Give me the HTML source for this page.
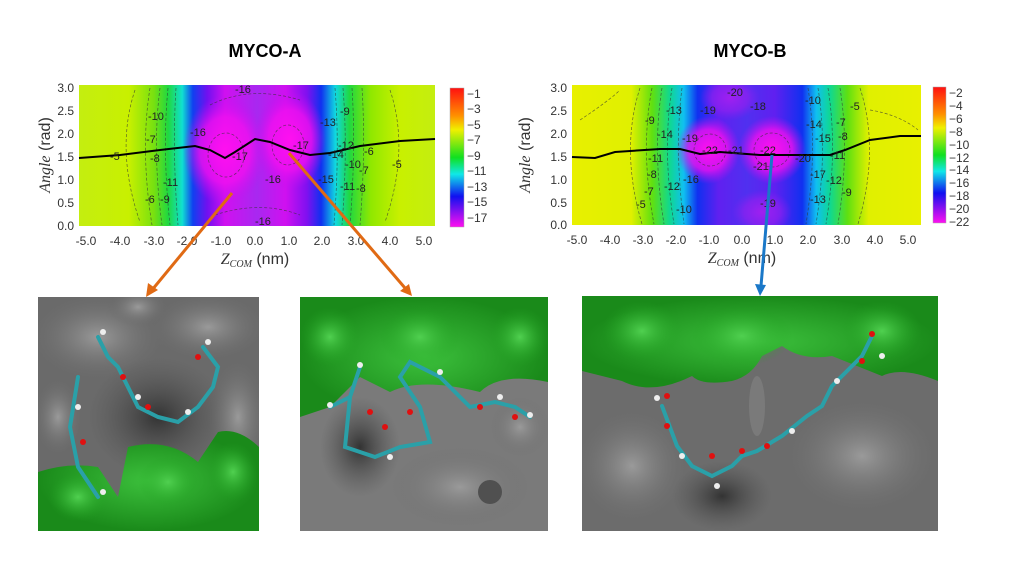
<!DOCTYPE html>
<html><head><meta charset="utf-8"><style>
html,body{margin:0;padding:0;background:#fff;}
svg{display:block;font-family:"Liberation Sans",sans-serif;}
</style></head><body>
<svg width="1024" height="576" viewBox="0 0 1024 576" xmlns="http://www.w3.org/2000/svg">
<defs>
<clipPath id="ca"><rect x="79" y="85" width="356" height="141"/></clipPath>
<clipPath id="cb"><rect x="572" y="85" width="349" height="140"/></clipPath>
<linearGradient id="ga" x1="79" x2="435" gradientUnits="userSpaceOnUse">
<stop offset="0" stop-color="#c4ee10"/>
<stop offset="0.14" stop-color="#c8f000"/>
<stop offset="0.21" stop-color="#78e010"/>
<stop offset="0.25" stop-color="#20d840"/>
<stop offset="0.29" stop-color="#10e0d0"/>
<stop offset="0.32" stop-color="#1040f0"/>
<stop offset="0.36" stop-color="#7010f0"/>
<stop offset="0.41" stop-color="#d010f0"/>
<stop offset="0.50" stop-color="#a828f0"/>
<stop offset="0.58" stop-color="#d010f0"/>
<stop offset="0.64" stop-color="#8010f0"/>
<stop offset="0.68" stop-color="#1030f0"/>
<stop offset="0.72" stop-color="#10d8e0"/>
<stop offset="0.76" stop-color="#20d840"/>
<stop offset="0.82" stop-color="#90e800"/>
<stop offset="0.90" stop-color="#c8f000"/>
<stop offset="1" stop-color="#c4ee10"/>
</linearGradient>
<linearGradient id="gb" x1="572" x2="921" gradientUnits="userSpaceOnUse">
<stop offset="0" stop-color="#e8f000"/>
<stop offset="0.17" stop-color="#e0f000"/>
<stop offset="0.23" stop-color="#60e010"/>
<stop offset="0.28" stop-color="#10d890"/>
<stop offset="0.32" stop-color="#10c0f0"/>
<stop offset="0.36" stop-color="#1030f0"/>
<stop offset="0.42" stop-color="#6020f0"/>
<stop offset="0.50" stop-color="#5030f0"/>
<stop offset="0.58" stop-color="#6020f0"/>
<stop offset="0.66" stop-color="#1030f0"/>
<stop offset="0.70" stop-color="#10c0f0"/>
<stop offset="0.74" stop-color="#10d890"/>
<stop offset="0.79" stop-color="#60e010"/>
<stop offset="0.85" stop-color="#e0f000"/>
<stop offset="1" stop-color="#e8f000"/>
</linearGradient>
<radialGradient id="mag"><stop offset="0" stop-color="#ff10f0"/><stop offset="0.6" stop-color="#f010f0" stop-opacity="0.8"/><stop offset="1" stop-color="#c010f0" stop-opacity="0"/></radialGradient>
<radialGradient id="pur"><stop offset="0" stop-color="#a020f0"/><stop offset="0.6" stop-color="#9020f0" stop-opacity="0.7"/><stop offset="1" stop-color="#8020f0" stop-opacity="0"/></radialGradient>
<linearGradient id="cba" x1="0" y1="0" x2="0" y2="1">
<stop offset="0" stop-color="#ff1010"/><stop offset="0.2" stop-color="#ff9000"/><stop offset="0.3" stop-color="#f0f000"/><stop offset="0.5" stop-color="#10e020"/><stop offset="0.62" stop-color="#10e8e8"/><stop offset="0.78" stop-color="#1010f0"/><stop offset="1" stop-color="#ff10f0"/>
</linearGradient>
<radialGradient id="gr1"><stop offset="0" stop-color="#3cc03c"/><stop offset="1" stop-color="#1a8a1a"/></radialGradient>
<radialGradient id="gb1"><stop offset="0" stop-color="#9a9a9a"/><stop offset="1" stop-color="#6a6a6a" stop-opacity="0"/></radialGradient>
<radialGradient id="gd1"><stop offset="0" stop-color="#333"/><stop offset="1" stop-color="#555" stop-opacity="0"/></radialGradient>
<radialGradient id="gg1"><stop offset="0" stop-color="#50d050"/><stop offset="1" stop-color="#20a020" stop-opacity="0"/></radialGradient>
</defs>

<text x="265" y="57" text-anchor="middle" font-size="18" font-weight="bold">MYCO-A</text>
<text x="750" y="57" text-anchor="middle" font-size="18" font-weight="bold">MYCO-B</text>

<!-- Left heatmap -->
<g clip-path="url(#ca)">
<rect x="79" y="85" width="356" height="141" fill="url(#ga)"/>
<ellipse cx="225" cy="150" rx="42" ry="55" fill="url(#mag)"/>
<ellipse cx="290" cy="140" rx="36" ry="50" fill="url(#mag)"/>
<g fill="none" stroke="#333" stroke-width="0.7" stroke-dasharray="3,2" opacity="0.7">
<path d="M135 90 Q115 150 140 222"/><path d="M150 88 Q140 150 152 225"/><path d="M160 88 Q152 150 162 225"/><path d="M168 88 Q162 150 170 225"/><path d="M176 88 Q172 150 178 225"/>
<path d="M335 88 Q340 150 334 225"/><path d="M343 88 Q348 150 342 225"/><path d="M352 88 Q356 150 350 225"/><path d="M362 88 Q366 150 360 225"/><path d="M390 90 Q410 150 385 222"/>
<ellipse cx="226" cy="155" rx="18" ry="22"/><ellipse cx="288" cy="145" rx="16" ry="20"/><path d="M210 105 Q250 85 300 100"/><path d="M215 215 Q260 200 300 215"/>
</g>
</g>
<path d="M79 158 L120 155 L160 150 L195 146 L210 150 L225 158 L235 152 L255 139 L270 142 L290 150 L310 155 L330 153 L360 146 L400 141 L435 139" fill="none" stroke="#000" stroke-width="2"/>
<g font-size="11" fill="#222">
<text x="110" y="160">-5</text><text x="148" y="120">-10</text><text x="146" y="143">-7</text><text x="150" y="162">-8</text><text x="163" y="186">-11</text><text x="145" y="203">-6</text><text x="160" y="203">-9</text>
<text x="190" y="136">-16</text><text x="232" y="160">-17</text><text x="265" y="183">-16</text><text x="293" y="149">-17</text><text x="320" y="126">-13</text><text x="340" y="115">-9</text>
<text x="328" y="158">-14</text><text x="338" y="149">-12</text><text x="345" y="168">-10</text><text x="364" y="155">-6</text><text x="359" y="174">-7</text><text x="340" y="190">-11</text><text x="356" y="192">-8</text><text x="318" y="183">-15</text><text x="392" y="168">-5</text><text x="255" y="225">-16</text><text x="235" y="93">-16</text>
</g>
<g font-size="12" fill="#333" text-anchor="end">
<text x="74" y="92">3.0</text><text x="74" y="115">2.5</text><text x="74" y="138">2.0</text><text x="74" y="161">1.5</text><text x="74" y="184">1.0</text><text x="74" y="207">0.5</text><text x="74" y="230">0.0</text>
</g>
<g font-size="12" fill="#333" text-anchor="middle">
<text x="86" y="245">-5.0</text><text x="120" y="245">-4.0</text><text x="154" y="245">-3.0</text><text x="187" y="245">-2.0</text><text x="221" y="245">-1.0</text><text x="255" y="245">0.0</text><text x="289" y="245">1.0</text><text x="322" y="245">2.0</text><text x="356" y="245">3.0</text><text x="390" y="245">4.0</text><text x="424" y="245">5.0</text>
</g>
<text x="255" y="264" text-anchor="middle" font-size="16" fill="#333"><tspan font-family="Liberation Serif" font-style="italic">Z</tspan><tspan font-family="Liberation Serif" font-style="italic" font-size="10" dy="3">COM</tspan><tspan dy="-3"> (nm)</tspan></text>
<text transform="translate(50 155) rotate(-90)" text-anchor="middle" font-size="16" fill="#333"><tspan font-family="Liberation Serif" font-style="italic">Angle</tspan> (rad)</text>
<rect x="450" y="88" width="14" height="139" fill="url(#cba)" stroke="#aaa" stroke-width="0.5"/>
<g font-size="12" fill="#333">
<text x="467" y="98">−1</text><text x="467" y="113">−3</text><text x="467" y="129">−5</text><text x="467" y="144">−7</text><text x="467" y="160">−9</text><text x="467" y="175">−11</text><text x="467" y="191">−13</text><text x="467" y="206">−15</text><text x="467" y="222">−17</text>
</g>

<!-- Right heatmap -->
<g clip-path="url(#cb)">
<rect x="572" y="85" width="349" height="140" fill="url(#gb)"/>
<ellipse cx="730" cy="98" rx="30" ry="22" fill="url(#pur)"/>
<ellipse cx="762" cy="212" rx="30" ry="22" fill="url(#pur)"/>
<ellipse cx="708" cy="150" rx="32" ry="34" fill="url(#mag)"/>
<ellipse cx="772" cy="150" rx="34" ry="34" fill="url(#mag)"/>
<g fill="none" stroke="#333" stroke-width="0.7" stroke-dasharray="3,2" opacity="0.7">
<path d="M640 88 Q620 150 642 224"/><path d="M652 88 Q640 150 654 224"/><path d="M662 88 Q652 150 664 224"/><path d="M672 88 Q662 150 674 224"/><path d="M682 88 Q674 150 684 224"/>
<path d="M808 88 Q818 150 806 224"/><path d="M818 88 Q828 150 816 224"/><path d="M828 88 Q838 150 826 224"/><path d="M840 88 Q850 150 838 224"/><path d="M860 88 Q880 150 858 224"/>
<ellipse cx="710" cy="150" rx="16" ry="16"/><ellipse cx="772" cy="150" rx="18" ry="17"/><path d="M580 120 Q610 100 620 90"/><path d="M870 110 Q900 115 918 130"/>
</g>
</g>
<path d="M572 157 L595 158 L615 152 L660 149 L680 149 L700 154 L720 152 L760 155 L800 155 L830 155 L845 150 L870 140 L900 136 L921 136" fill="none" stroke="#000" stroke-width="2"/>
<g font-size="11" fill="#222">
<text x="666" y="114">-13</text><text x="645" y="124">-9</text><text x="657" y="138">-14</text><text x="682" y="142">-19</text><text x="700" y="114">-19</text><text x="727" y="96">-20</text><text x="750" y="110">-18</text><text x="805" y="104">-10</text><text x="850" y="110">-5</text>
<text x="702" y="154">-22</text><text x="728" y="154">-21</text><text x="760" y="154">-22</text><text x="753" y="170">-21</text><text x="795" y="162">-20</text><text x="806" y="128">-14</text><text x="815" y="142">-15</text><text x="836" y="126">-7</text><text x="838" y="140">-8</text><text x="830" y="159">-11</text>
<text x="648" y="162">-11</text><text x="647" y="178">-8</text><text x="644" y="195">-7</text><text x="664" y="190">-12</text><text x="683" y="183">-16</text><text x="810" y="178">-17</text><text x="826" y="184">-12</text><text x="842" y="196">-9</text><text x="810" y="203">-13</text><text x="760" y="207">-19</text><text x="676" y="213">-10</text><text x="636" y="208">-5</text>
</g>
<g font-size="12" fill="#333" text-anchor="end">
<text x="567" y="92">3.0</text><text x="567" y="115">2.5</text><text x="567" y="138">2.0</text><text x="567" y="161">1.5</text><text x="567" y="184">1.0</text><text x="567" y="207">0.5</text><text x="567" y="229">0.0</text>
</g>
<g font-size="12" fill="#333" text-anchor="middle">
<text x="577" y="244">-5.0</text><text x="610" y="244">-4.0</text><text x="643" y="244">-3.0</text><text x="676" y="244">-2.0</text><text x="709" y="244">-1.0</text><text x="742" y="244">0.0</text><text x="775" y="244">1.0</text><text x="808" y="244">2.0</text><text x="842" y="244">3.0</text><text x="875" y="244">4.0</text><text x="908" y="244">5.0</text>
</g>
<text x="742" y="263" text-anchor="middle" font-size="16" fill="#333"><tspan font-family="Liberation Serif" font-style="italic">Z</tspan><tspan font-family="Liberation Serif" font-style="italic" font-size="10" dy="3">COM</tspan><tspan dy="-3"> (nm)</tspan></text>
<text transform="translate(530 155) rotate(-90)" text-anchor="middle" font-size="16" fill="#333"><tspan font-family="Liberation Serif" font-style="italic">Angle</tspan> (rad)</text>
<rect x="933" y="87" width="13" height="136" fill="url(#cba)" stroke="#aaa" stroke-width="0.5"/>
<g font-size="12" fill="#333">
<text x="949" y="97">−2</text><text x="949" y="110">−4</text><text x="949" y="123">−6</text><text x="949" y="136">−8</text><text x="949" y="149">−10</text><text x="949" y="162">−12</text><text x="949" y="174">−14</text><text x="949" y="187">−16</text><text x="949" y="200">−18</text><text x="949" y="213">−20</text><text x="949" y="226">−22</text>
</g>

<!-- Arrows -->
<line x1="232" y1="193" x2="152" y2="290" stroke="#e06a14" stroke-width="3"/>
<polygon points="146,297 148,283 158,290" fill="#e06a14"/>
<line x1="289" y1="153" x2="405" y2="288" stroke="#e06a14" stroke-width="3"/>
<polygon points="412,296 400,291 409,284" fill="#e06a14"/>
<line x1="772" y1="155" x2="761" y2="286" stroke="#1a78c8" stroke-width="3"/>
<polygon points="760,296 755,284 766,285" fill="#1a78c8"/>

<!-- Image 1 -->
<svg x="38" y="297" width="221" height="234" viewBox="0 0 221 234">
<rect width="221" height="234" fill="#6a6a6a"/>
<ellipse cx="60" cy="40" rx="70" ry="45" fill="url(#gb1)"/><ellipse cx="170" cy="30" rx="60" ry="35" fill="url(#gb1)"/><ellipse cx="120" cy="120" rx="70" ry="60" fill="url(#gd1)"/><ellipse cx="200" cy="120" rx="30" ry="60" fill="url(#gb1)"/>
<ellipse cx="20" cy="120" rx="25" ry="40" fill="url(#gb1)"/><ellipse cx="100" cy="10" rx="30" ry="20" fill="url(#gb1)"/>
<path d="M0 175 Q30 165 60 170 L80 200 L90 150 Q130 140 160 165 L180 135 Q200 130 221 150 L221 234 L0 234 Z" fill="url(#gr1)"/>
<ellipse cx="40" cy="200" rx="30" ry="25" fill="url(#gg1)"/><ellipse cx="130" cy="185" rx="30" ry="25" fill="url(#gg1)"/><ellipse cx="195" cy="175" rx="25" ry="30" fill="url(#gg1)"/>
<g stroke="#2aa0a8" stroke-width="4" fill="none" stroke-linecap="round">
<path d="M40 80 L32 130 L40 170 L60 200"/><path d="M60 40 L70 60 L80 70 L90 90 L100 110 L120 120 L140 125 L160 110 L175 90 L180 70 L165 50"/>
</g>
<g fill="#eee"><circle cx="40" cy="110" r="3"/><circle cx="65" cy="35" r="3"/><circle cx="100" cy="100" r="3"/><circle cx="150" cy="115" r="3"/><circle cx="170" cy="45" r="3"/><circle cx="65" cy="195" r="3"/></g>
<g fill="#e01010"><circle cx="85" cy="80" r="3"/><circle cx="110" cy="110" r="3"/><circle cx="45" cy="145" r="3"/><circle cx="160" cy="60" r="3"/></g>
</svg>

<!-- Image 2 -->
<svg x="300" y="297" width="248" height="234" viewBox="0 0 248 234">
<rect width="248" height="234" fill="#7a7a7a"/>
<ellipse cx="60" cy="150" rx="40" ry="50" fill="url(#gd1)"/><ellipse cx="160" cy="190" rx="70" ry="40" fill="url(#gb1)"/><circle cx="190" cy="195" r="12" fill="#505050"/>
<ellipse cx="220" cy="130" rx="30" ry="30" fill="url(#gb1)"/>
<path d="M0 0 L248 0 L248 85 Q200 75 180 95 Q120 80 90 95 L60 80 L30 110 L0 120 Z" fill="url(#gr1)"/>
<ellipse cx="30" cy="40" rx="30" ry="30" fill="url(#gg1)"/><ellipse cx="120" cy="40" rx="40" ry="30" fill="url(#gg1)"/><ellipse cx="220" cy="40" rx="30" ry="30" fill="url(#gg1)"/>
<g stroke="#2aa0a8" stroke-width="4" fill="none" stroke-linecap="round">
<path d="M30 110 L50 100 L60 70 L50 100 L45 150 L75 160 L100 150 L130 145 L120 110 L100 80 L110 65 L140 80 L160 100 L170 110 L195 105 L215 110 L230 120"/>
</g>
<g fill="#eee"><circle cx="30" cy="108" r="3"/><circle cx="60" cy="68" r="3"/><circle cx="90" cy="160" r="3"/><circle cx="140" cy="75" r="3"/><circle cx="200" cy="100" r="3"/><circle cx="230" cy="118" r="3"/></g>
<g fill="#e01010"><circle cx="70" cy="115" r="3"/><circle cx="85" cy="130" r="3"/><circle cx="110" cy="115" r="3"/><circle cx="180" cy="110" r="3"/><circle cx="215" cy="120" r="3"/></g>
</svg>

<!-- Image 3 -->
<svg x="582" y="296" width="356" height="235" viewBox="0 0 356 235">
<rect width="356" height="235" fill="#6c6c6c"/>
<ellipse cx="50" cy="170" rx="60" ry="60" fill="url(#gb1)"/><ellipse cx="280" cy="160" rx="80" ry="60" fill="url(#gb1)"/><ellipse cx="140" cy="200" rx="50" ry="35" fill="url(#gd1)"/>
<path d="M0 0 L356 0 L356 85 Q320 70 300 80 L250 60 Q220 65 200 50 L180 60 Q170 80 150 85 Q120 90 110 80 Q70 100 40 85 L0 75 Z" fill="url(#gr1)"/>
<ellipse cx="60" cy="35" rx="40" ry="30" fill="url(#gg1)"/><ellipse cx="160" cy="40" rx="50" ry="30" fill="url(#gg1)"/><ellipse cx="300" cy="35" rx="40" ry="30" fill="url(#gg1)"/>
<ellipse cx="175" cy="110" rx="8" ry="30" fill="#7a7a7a"/>
<g stroke="#2aa0a8" stroke-width="4" fill="none" stroke-linecap="round">
<path d="M80 110 L95 150 L110 170 L130 180 L150 170 L160 160 L175 155 L200 140 L225 120 L240 110 L250 90 L270 70 L280 60 L290 40"/>
</g>
<g fill="#eee"><circle cx="75" cy="102" r="3"/><circle cx="100" cy="160" r="3"/><circle cx="135" cy="190" r="3"/><circle cx="210" cy="135" r="3"/><circle cx="255" cy="85" r="3"/><circle cx="300" cy="60" r="3"/></g>
<g fill="#e01010"><circle cx="85" cy="100" r="3"/><circle cx="85" cy="130" r="3"/><circle cx="130" cy="160" r="3"/><circle cx="160" cy="155" r="3"/><circle cx="185" cy="150" r="3"/><circle cx="280" cy="65" r="3"/><circle cx="290" cy="38" r="3"/></g>
</svg>
</svg>
</body></html>
